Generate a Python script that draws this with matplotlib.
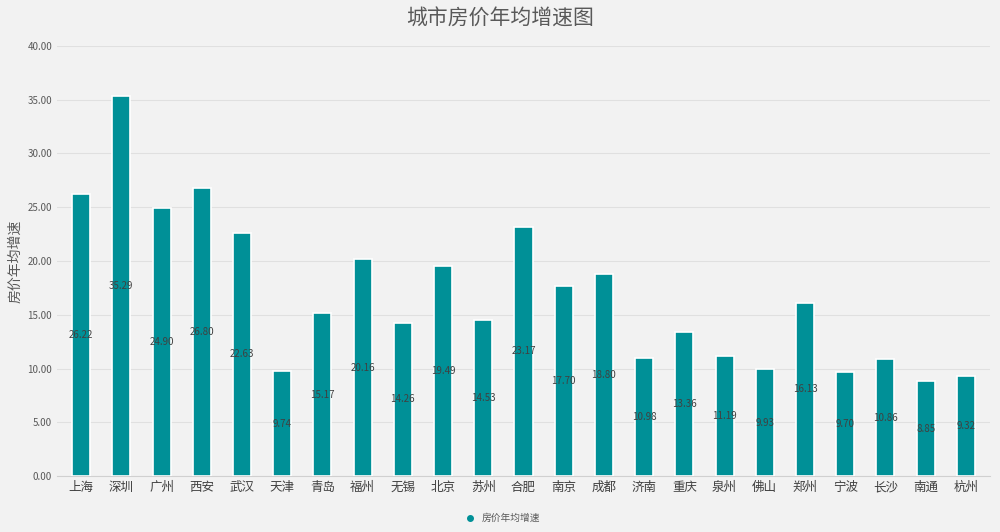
import matplotlib.pyplot as plt
from matplotlib.lines import Line2D

plt.rcParams["font.family"] = ["Noto Sans CJK SC", "DejaVu Sans"]

cities = ["上海", "深圳", "广州", "西安", "武汉", "天津", "青岛", "福州", "无锡", "北京", "苏州", "合肥",
          "南京", "成都", "济南", "重庆", "泉州", "佛山", "郑州", "宁波", "长沙", "南通", "杭州"]
growth = [26.22, 35.29, 24.90, 26.80, 22.63, 9.74, 15.17, 20.16, 14.26, 19.49, 14.53, 23.17,
          17.70, 18.80, 10.98, 13.36, 11.19, 9.93, 16.13, 9.70, 10.86, 8.85, 9.32]
yticks = [0, 5, 10, 15, 20, 25, 30, 35, 40]

bg = "#f2f2f2"
color = "#009097"

fig = plt.figure(figsize=(10, 5.32), dpi=100, facecolor=bg)
ax = fig.add_axes([0.057, 0.105, 0.933, 0.809], facecolor=bg)

x = range(len(cities))
bars = ax.bar(x, growth, width=0.45, color=color, edgecolor="white", linewidth=1.2, zorder=3)
for i, v in enumerate(growth):
    ax.text(i, v / 2, f"{v:.2f}", ha="center", va="center", fontsize=7, color="#404040", zorder=4)

ax.set_xlim(-0.6, len(cities) - 0.4)
ax.set_ylim(0, 40)
ax.set_yticks(yticks)
ax.set_yticklabels([f"{t:.2f}" for t in yticks], fontsize=7, color="#595959")
ax.set_xticks(list(x))
ax.set_xticklabels(cities, fontsize=9, color="#404040")
ax.grid(axis="y", color="#e0e0e0", linewidth=0.8, zorder=0)
ax.tick_params(length=0)
for s in ["top", "right", "left"]:
    ax.spines[s].set_visible(False)
ax.spines["bottom"].set_color("#d0d0d0")

ax.set_ylabel("房价年均增速", fontsize=10, color="#595959")
fig.suptitle("城市房价年均增速图", fontsize=15, color="#595959", y=0.985)

handle = Line2D([], [], marker="o", color=color, linestyle="none", markersize=4)
fig.legend([handle], ["房价年均增速"], loc="lower center", bbox_to_anchor=(0.5, 0.0),
           frameon=False, fontsize=7, handletextpad=0.2, labelcolor="#595959")

fig.savefig("out.png", dpi=100, facecolor=bg)
